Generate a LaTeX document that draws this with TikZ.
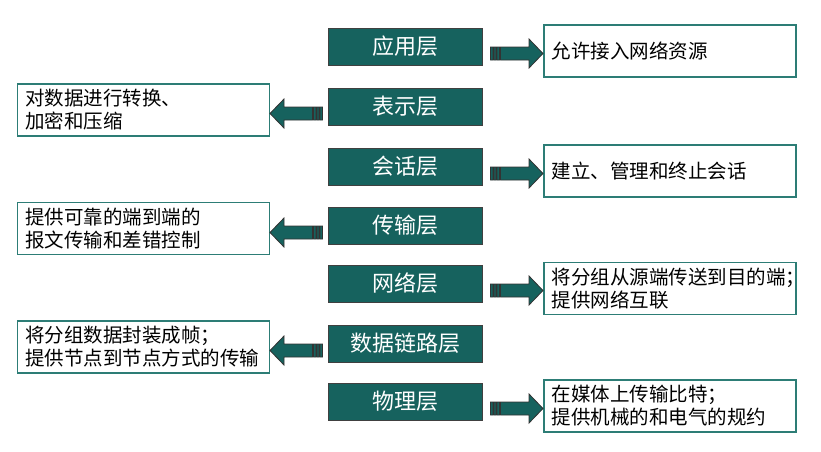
\documentclass[tikz,border=0pt]{standalone}
\usepackage{fontspec}
\newfontfamily\cjk{Noto Sans CJK SC}
\usepackage{xcolor}
\usetikzlibrary{calc}
\definecolor{layerteal}{RGB}{22,98,94}
\definecolor{boxteal}{RGB}{45,125,118}
\tikzset{
	layer/.style={
			draw=black!75, fill=layerteal, text=white, line width=1pt,
			minimum width=154pt, minimum height=37pt, inner sep=0pt,
			font=\cjk\fontsize{22}{26}\selectfont},
	desc/.style={
			draw=boxteal, line width=1.5pt, fill=white,
			text width=236pt, minimum height=52pt, inner xsep=8pt, inner ysep=2pt,
			align=left, font=\cjk\fontsize{19.5}{23}\selectfont},
	fatarrow/.style={
			draw=black!80, fill=layerteal, line width=0.8pt,
			to path={
					let \p1=(\tikztostart), \p2=(\tikztotarget),
					\n1={ifthenelse(\x2>\x1,1,-1)} in
					(\x1,{\y1+6.5pt}) -- ({\x2-(\n1)*14pt},{\y1+6.5pt})
					-- ({\x2-(\n1)*14pt},{\y1+14.5pt}) -- (\x2,\y1)
					-- ({\x2-(\n1)*14pt},{\y1-14.5pt}) -- ({\x2-(\n1)*14pt},{\y1-6.5pt})
					-- (\x1,{\y1-6.5pt}) -- cycle
					% stripes at the tail
					({\x1-(\n1)*10pt},{\y1-6.5pt}) rectangle ({\x1-(\n1)*7.5pt},{\y1+6.5pt})
					({\x1-(\n1)*6.5pt},{\y1-6.5pt}) rectangle ({\x1-(\n1)*4.5pt},{\y1+6.5pt})
					({\x1-(\n1)*3.5pt},{\y1-6.5pt}) rectangle ({\x1-(\n1)*1pt},{\y1+6.5pt})
				}}
}

\begin{document}
\begin{tikzpicture}[x=1pt,y=-1pt]
	\useasboundingbox (0,0) rectangle (821,451);

	% The seven layers
	\foreach \name/\y/\txt in {L1/46.5/应用层, L2/106.5/表示层, L3/166.5/会话层,
			L4/225.5/传输层, L5/283.5/网络层, L6/343.5/数据链路层, L7/401.5/物理层} {
			\node[layer] (\name) at (405,\y) {\txt};
		}

	% Boxes on the right
	\node[desc, anchor=west] (D1) at (543,51) {允许接入网络资源};
	\node[desc, anchor=west] (D3) at (543,171) {建立、管理和终止会话};
	\node[desc, anchor=west] (D5) at (543,288.5) {将分组从源端传送到目的端；\\提供网络互联};
	\node[desc, anchor=west] (D7) at (543,406) {在媒体上传输比特；\\提供机械的和电气的规约};

	% Boxes on the left
	\node[desc, anchor=east] (D2) at (270,110) {对数据进行转换、\\加密和压缩};
	\node[desc, anchor=east] (D4) at (270,228.5) {提供可靠的端到端的\\报文传输和差错控制};
	\node[desc, anchor=east] (D6) at (270,347) {将分组数据封装成帧；\\提供节点到节点方式的传输};

	% Arrows to the right
	\foreach \i in {1,3,5,7} {
			\draw[fatarrow] ([xshift=18pt,yshift=-7pt]L\i.east) to (D\i.west);
		}

	% Arrows to the left
	\foreach \i in {2,4,6} {
			\draw[fatarrow] ([xshift=-15pt,yshift=-7pt]L\i.west) to (D\i.east);
		}

\end{tikzpicture}
\end{document}
